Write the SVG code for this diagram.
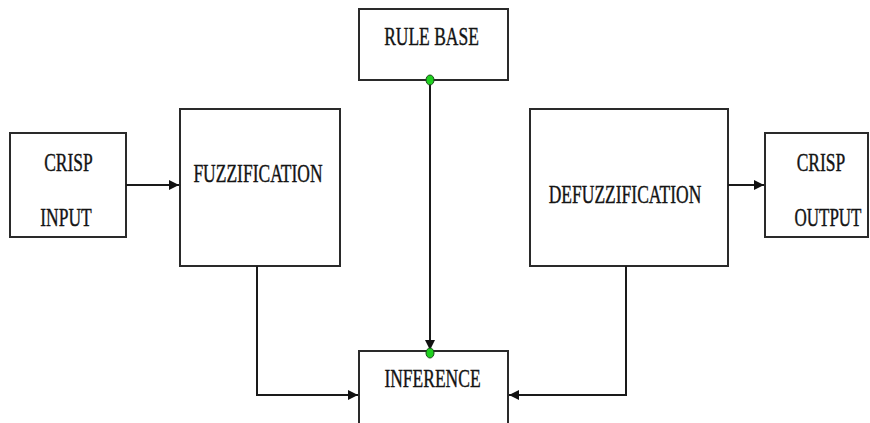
<svg xmlns="http://www.w3.org/2000/svg" width="870" height="423" viewBox="0 0 870 423">
<style>
.box{fill:#fff;stroke:#2a2a2a;stroke-width:2}
.t{font-family:"Liberation Serif","Times New Roman",serif;font-size:25px;fill:#141414;stroke:#141414;stroke-width:0.4;text-anchor:middle}
.ln{fill:none;stroke:#1a1a1a;stroke-width:2}
.dot{fill:#1fd01f;stroke:#1a4a1a;stroke-width:1}
</style>
<defs>
<marker id="ah" viewBox="0 0 10 10" refX="10" refY="5" markerWidth="11" markerHeight="10" markerUnits="userSpaceOnUse" orient="auto">
<path d="M0,0 L10,5 L0,10 z" fill="#111"/>
</marker>
</defs>
<rect width="870" height="423" fill="#fff"/>
<g id="crisp-input">
<rect class="box" x="10" y="133" width="116" height="104"/>
<text class="t" transform="translate(68.5,171) scale(0.7,1)">CRISP</text>
<text class="t" transform="translate(66,226) scale(0.7,1)">INPUT</text>
</g>
<g id="fuzzification">
<rect class="box" x="180" y="109" width="160" height="157"/>
<text class="t" transform="translate(258,182) scale(0.7,1)">FUZZIFICATION</text>
</g>
<g id="rule-base">
<rect class="box" x="359" y="9" width="149" height="71"/>
<text class="t" transform="translate(431.5,45) scale(0.7,1)">RULE BASE</text>
</g>
<g id="defuzzification">
<rect class="box" x="530" y="109" width="198" height="157"/>
<text class="t" transform="translate(625,203) scale(0.7,1)">DEFUZZIFICATION</text>
</g>
<g id="crisp-output">
<rect class="box" x="765" y="133" width="103" height="104"/>
<text class="t" transform="translate(821,171) scale(0.7,1)">CRISP</text>
<text class="t" transform="translate(828,226) scale(0.68,1)">OUTPUT</text>
</g>
<g id="inference">
<rect class="box" x="359" y="351" width="149" height="80"/>
<text class="t" transform="translate(432.5,387) scale(0.7,1)">INFERENCE</text>
</g>
<g id="connectors">
<line class="ln" x1="126" y1="185" x2="179" y2="185" marker-end="url(#ah)"/>
<line class="ln" x1="728" y1="185" x2="764" y2="185" marker-end="url(#ah)"/>
<line class="ln" x1="430" y1="80" x2="430" y2="350" stroke-width="2.4" marker-end="url(#ah)"/>
<polyline class="ln" points="257,266 257,395 358,395" stroke="#444" stroke-width="1.6" marker-end="url(#ah)"/>
<polyline class="ln" points="626,266 626,395 509,395" marker-end="url(#ah)"/>
<ellipse class="dot" cx="430" cy="80" rx="4" ry="5"/>
<ellipse class="dot" cx="430" cy="353" rx="4" ry="5"/>
</g>
</svg>
